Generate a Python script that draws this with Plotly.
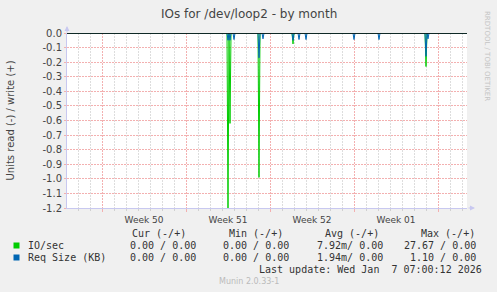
import plotly.graph_objects as go
from datetime import datetime, timedelta

# ---- data (read values, graphed as negative) ----
x_start = "2025-12-05 02:00"
x_end = "2026-01-07 10:00"

io_times = ["2025-12-18 12:00", "2025-12-18 16:00", "2025-12-21 02:00",
            "2025-12-23 22:00", "2026-01-04 00:00"]
io_read = [1.22, 0.62, 0.99, 0.075, 0.23]

req_times = ["2025-12-18 12:00", "2025-12-18 16:00", "2025-12-19 00:00",
             "2025-12-21 02:00", "2025-12-21 10:00", "2025-12-23 22:00",
             "2025-12-24 10:00", "2025-12-25 00:00", "2025-12-29 00:00",
             "2025-12-31 02:00", "2026-01-04 00:00", "2026-01-04 04:00"]
req_read = [0.05, 0.05, 0.045, 0.17, 0.04, 0.05, 0.045, 0.045, 0.045,
            0.045, 0.16, 0.04]

y_ticks = [0.0, -0.1, -0.2, -0.3, -0.4, -0.5, -0.6, -0.7, -0.8, -0.9, -1.0, -1.1, -1.2]
y_ticktext = ["%.1f" % v for v in y_ticks]

legend_rows = [
    ("IO/sec", "#00cc00", ["0.00 / 0.00", "0.00 / 0.00", "7.92m/ 0.00", "27.67 / 0.00"]),
    ("Req Size (KB)", "#0066b3", ["0.00 / 0.00", "0.00 / 0.00", "1.94m/ 0.00", "1.10 / 0.00"]),
]
headers = ["Cur (-/+)", "Min (-/+)", "Avg (-/+)", "Max (-/+)"]

FMT = "%Y-%m-%d %H:%M"
STEP = timedelta(hours=2)


def spikes(times, vals):
    pts = {datetime.strptime(x_start, FMT): 0.0, datetime.strptime(x_end, FMT): 0.0}
    for t, v in zip(times, vals):
        tt = datetime.strptime(t, FMT)
        pts.setdefault(tt - STEP, 0.0)
        pts.setdefault(tt + STEP, 0.0)
    for t, v in zip(times, vals):
        pts[datetime.strptime(t, FMT)] = -v
    ks = sorted(pts)
    return ks, [pts[k] for k in ks]


fig = go.Figure()
xs, ys = spikes(io_times, io_read)
fig.add_trace(go.Scatter(x=xs, y=ys, mode="lines", line=dict(color="#00cc00", width=1)))
xs, ys = spikes(req_times, req_read)
fig.add_trace(go.Scatter(x=xs, y=ys, mode="lines", line=dict(color="#0066b3", width=1)))

# plot area geometry in pixels
L, T, W, H = 67, 33, 400, 175


def px(x):
    return (x - L) / W


def py(y):
    return (T + H - y) / H


RED = "#f3b0b0"
fig.update_layout(
    width=497, height=292,
    margin=dict(l=L, r=497 - L - W, t=T, b=292 - T - H),
    paper_bgcolor="#f0f0f0", plot_bgcolor="white", showlegend=False,
    font=dict(family="DejaVu Sans", color="#333333"),
)
fig.update_xaxes(
    type="date", range=[x_start, x_end],
    tick0="2025-12-08", dtick=7 * 86400000, tickformat="Week %V", ticklabelmode="period",
    showgrid=True, gridcolor=RED, griddash="2px,1px", gridwidth=1,
    minor=dict(dtick=86400000, tick0="2025-12-08", showgrid=True, gridcolor="#dddddd",
               griddash="2px,1px", ticks="outside", ticklen=2, tickcolor="#d0d0d0"),
    showline=True, linecolor="#c8c8f0", zeroline=False,
    ticks="outside", ticklen=3, tickcolor=RED,
    tickfont=dict(size=9, color="#444444"),
)
fig.update_yaxes(
    range=[-1.2, 0.0], tickvals=y_ticks, ticktext=y_ticktext,
    showgrid=True, gridcolor=RED, griddash="2px,1px", gridwidth=1,
    showline=True, linecolor="#c8c8f0", zeroline=False,
    ticks="outside", ticklen=2, tickcolor=RED,
    tickfont=dict(size=10, color="#444444"),
)

shapes = [dict(type="line", xref="paper", x0=0, x1=1, yref="y", y0=0, y1=0,
               line=dict(color="black", width=1.5), layer="above")]
ann = []
ann.append(dict(text="IOs for /dev/loop2 - by month", x=px(248.5), y=py(14), xref="paper", yref="paper",
                showarrow=False, xanchor="center", yanchor="middle",
                font=dict(size=12, color="#444444", family="DejaVu Sans")))
ann.append(dict(text="Units read (-) / write (+)", x=px(10), y=py(120.5), xref="paper", yref="paper",
                showarrow=False, textangle=-90, xanchor="center", yanchor="middle",
                font=dict(size=10, color="#444444", family="DejaVu Sans")))
ann.append(dict(text="RRDTOOL / TOBI OETIKER", x=px(487), y=py(56), xref="paper", yref="paper",
                showarrow=False, textangle=90, xanchor="center", yanchor="middle",
                font=dict(size=7, color="#c4c4c4", family="DejaVu Sans")))
# axis arrows
ann.append(dict(text="", x=px(67), y=py(26), xref="paper", yref="paper", showarrow=True,
                ax=0, ay=8, arrowhead=2, arrowsize=1, arrowwidth=1, arrowcolor="#c8c8f0"))
ann.append(dict(text="", x=px(475), y=py(208), xref="paper", yref="paper", showarrow=True,
                ax=-8, ay=0, arrowhead=2, arrowsize=1, arrowwidth=1, arrowcolor="#c8c8f0"))

mono = dict(family="DejaVu Sans Mono", size=10, color="#333333")
hdr_right = [187.5, 284.5, 380.5, 476.5]
val_right = [197.5, 291, 384.5, 477.5]
for h, xr in zip(headers, hdr_right):
    ann.append(dict(text=h.replace(" ", "\u00a0"), x=px(xr), y=py(233), xref="paper", yref="paper",
                    showarrow=False, xanchor="right", yanchor="middle", font=mono))
row_y = [245.5, 257.5]
for (name, col, vals), ry in zip(legend_rows, row_y):
    shapes.append(dict(type="rect", xref="paper", yref="paper", x0=px(13.5), x1=px(19.5),
                       y0=py(ry - 3), y1=py(ry + 3), fillcolor=col, line=dict(width=0)))
    ann.append(dict(text=name.replace(" ", "\u00a0"), x=px(25.5), y=py(ry), xref="paper", yref="paper",
                    showarrow=False, xanchor="left", yanchor="middle", font=mono))
    for v, xr in zip(vals, val_right):
        ann.append(dict(text=v.replace(" ", "\u00a0"), x=px(xr), y=py(ry), xref="paper", yref="paper",
                        showarrow=False, xanchor="right", yanchor="middle", font=mono))
ann.append(dict(text="Last update: Wed Jan  7 07:00:12 2026".replace(" ", "\u00a0"), x=px(484), y=py(269.5),
                xref="paper", yref="paper", showarrow=False, xanchor="right", yanchor="middle", font=mono))
ann.append(dict(text="Munin 2.0.33-1", x=px(248.5), y=py(281.5), xref="paper", yref="paper",
                showarrow=False, xanchor="center", yanchor="middle",
                font=dict(family="DejaVu Sans", size=8, color="#bbbbbb")))

fig.update_layout(shapes=shapes, annotations=ann)
fig.write_html("out.html")
